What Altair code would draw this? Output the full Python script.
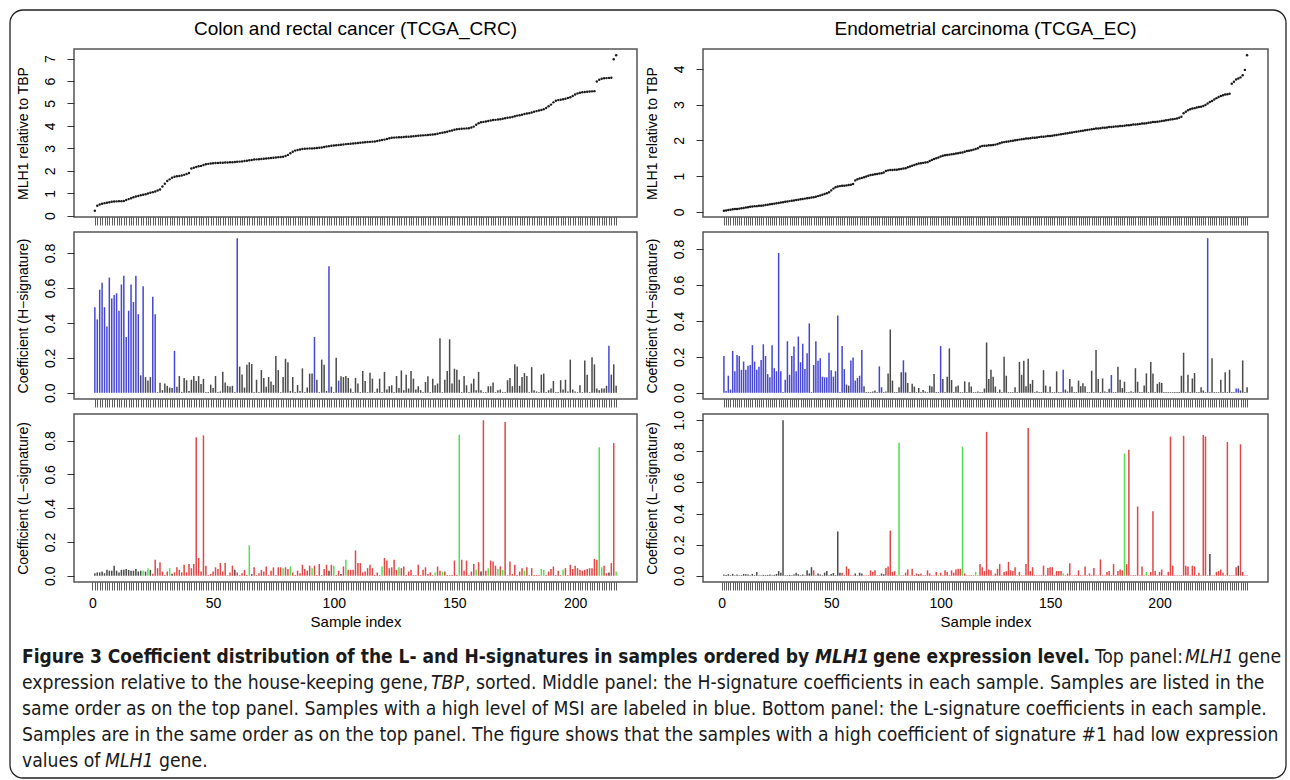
import altair as alt
import pandas as pd

# ---------------------------------------------------------------- data
crc_title = "Colon and rectal cancer (TCGA_CRC)"
ec_title = "Endometrial carcinoma (TCGA_EC)"

# top panels: MLH1 expression relative to TBP (sorted)
crc_expr = [
    0.22, 0.44, 0.5, 0.53, 0.56, 0.58, 0.6, 0.62, 0.63, 0.64,
    0.65, 0.65, 0.66, 0.7, 0.74, 0.78, 0.82, 0.86, 0.88, 0.91,
    0.93, 0.96, 0.99, 1.02, 1.05, 1.08, 1.12, 1.17, 1.3, 1.42,
    1.55, 1.62, 1.69, 1.74, 1.76, 1.77, 1.79, 1.82, 1.86, 1.9,
    2.1, 2.14, 2.17, 2.2, 2.22, 2.26, 2.29, 2.31, 2.33, 2.34,
    2.35, 2.35, 2.36, 2.36, 2.37, 2.37, 2.38, 2.38, 2.39, 2.4,
    2.41, 2.42, 2.44, 2.45, 2.47, 2.48, 2.5, 2.51, 2.52, 2.53,
    2.54, 2.55, 2.56, 2.57, 2.58, 2.59, 2.61, 2.62, 2.63, 2.66,
    2.71, 2.78, 2.85, 2.9, 2.93, 2.95, 2.97, 2.98, 2.99, 3.0,
    3.0, 3.01, 3.02, 3.03, 3.04, 3.06, 3.08, 3.1, 3.12, 3.13,
    3.14, 3.15, 3.16, 3.17, 3.19, 3.2, 3.21, 3.22, 3.23, 3.24,
    3.25, 3.26, 3.27, 3.28, 3.29, 3.3, 3.31, 3.33, 3.35, 3.37,
    3.39, 3.42, 3.45, 3.47, 3.48, 3.49, 3.5, 3.5, 3.51, 3.52,
    3.52, 3.53, 3.54, 3.55, 3.56, 3.57, 3.58, 3.59, 3.6, 3.61,
    3.62, 3.63, 3.65, 3.68, 3.7, 3.72, 3.74, 3.77, 3.8, 3.83,
    3.85, 3.86, 3.87, 3.88, 3.89, 3.9, 3.93, 3.97, 4.05, 4.12,
    4.16, 4.18, 4.2, 4.22, 4.24, 4.26, 4.27, 4.29, 4.3, 4.32,
    4.34, 4.36, 4.38, 4.4, 4.43, 4.46, 4.48, 4.5, 4.53, 4.55,
    4.57, 4.6, 4.63, 4.66, 4.69, 4.71, 4.74, 4.8, 4.88, 4.95,
    5.05, 5.12, 5.15, 5.17, 5.19, 5.21, 5.24, 5.28, 5.33, 5.4,
    5.45, 5.48, 5.5, 5.51, 5.52, 5.53, 5.54, 5.55, 5.98, 6.06,
    6.1, 6.12, 6.13, 6.14, 6.15, 6.97, 7.15,
]
ec_expr = [
    0.03, 0.04, 0.05, 0.06, 0.07, 0.08, 0.08, 0.09, 0.1, 0.11,
    0.12, 0.13, 0.14, 0.15, 0.16, 0.16, 0.17, 0.17, 0.18, 0.19,
    0.2, 0.21, 0.22, 0.23, 0.24, 0.25, 0.26, 0.27, 0.28, 0.29,
    0.3, 0.31, 0.32, 0.33, 0.34, 0.35, 0.36, 0.37, 0.38, 0.39,
    0.4, 0.41, 0.42, 0.44, 0.46, 0.48, 0.5, 0.52, 0.55, 0.6,
    0.65, 0.69, 0.71, 0.72, 0.73, 0.73, 0.74, 0.75, 0.76, 0.78,
    0.88, 0.91, 0.93, 0.95, 0.97, 0.99, 1.01, 1.03, 1.04, 1.05,
    1.06, 1.07, 1.08, 1.1, 1.14, 1.16, 1.17, 1.17, 1.18, 1.18,
    1.19, 1.2, 1.21, 1.22, 1.25, 1.27, 1.29, 1.31, 1.33, 1.35,
    1.36, 1.37, 1.38, 1.39, 1.42, 1.45, 1.48, 1.5, 1.52, 1.55,
    1.57, 1.58, 1.59, 1.6, 1.61, 1.62, 1.63, 1.64, 1.65, 1.66,
    1.68, 1.7, 1.71, 1.72, 1.74, 1.76, 1.78, 1.82, 1.84, 1.85,
    1.85, 1.86, 1.86, 1.87, 1.88, 1.9, 1.92, 1.94, 1.95, 1.96,
    1.97, 1.98, 1.99, 2.0, 2.01, 2.02, 2.03, 2.04, 2.05, 2.05,
    2.06, 2.07, 2.07, 2.08, 2.09, 2.1, 2.1, 2.11, 2.12, 2.12,
    2.13, 2.14, 2.15, 2.16, 2.17, 2.18, 2.19, 2.2, 2.21, 2.22,
    2.23, 2.24, 2.25, 2.26, 2.27, 2.28, 2.29, 2.3, 2.31, 2.32,
    2.33, 2.33, 2.34, 2.35, 2.35, 2.36, 2.37, 2.37, 2.38, 2.39,
    2.39, 2.4, 2.4, 2.41, 2.42, 2.42, 2.43, 2.44, 2.44, 2.45,
    2.46, 2.47, 2.47, 2.48, 2.49, 2.5, 2.51, 2.51, 2.52, 2.53,
    2.54, 2.55, 2.56, 2.57, 2.58, 2.59, 2.6, 2.61, 2.63, 2.66,
    2.76, 2.8, 2.84, 2.87, 2.89, 2.9, 2.92, 2.93, 2.94, 2.96,
    2.99, 3.03, 3.07, 3.1, 3.14, 3.18, 3.21, 3.24, 3.26, 3.28,
    3.29, 3.3, 3.58, 3.64, 3.7, 3.73, 3.76, 3.82, 3.97, 4.38,
]

# middle panels: H-signature coefficients
crc_h = [
    0.49, 0.42, 0.59, 0.63, 0.49, 0.38, 0.66, 0.54, 0.56, 0.57,
    0.47, 0.62, 0.67, 0.32, 0.47, 0.62, 0.52, 0.67, 0.45, 0.10,
    0.61, 0.09, 0.07, 0.09, 0.55, 0.45,
    0.004, 0.057, 0.015, 0.053, 0.04, 0.03, 0.027, 0.24, 0.035, 0.096,
    0.005, 0.085, 0.072, 0.01, 0.075, 0.096, 0.068, 0.096, 0.05, 0.08,
    0.004, 0.005, 0.047, 0.028, 0.096, 0.004, 0.008, 0.12, 0.059, 0.04,
    0.036, 0.04, 0.004,
    0.885,
    0.15, 0.105, 0.03, 0.16, 0.175, 0.165, 0.004, 0.075, 0.004, 0.13,
    0.085, 0.035, 0.09, 0.065, 0.045, 0.21, 0.13, 0.004, 0.09, 0.195,
    0.175, 0.01, 0.09, 0.004, 0.045, 0.01, 0.14, 0.004, 0.03, 0.11, 0.11,
    0.32, 0.075, 0.004, 0.19, 0.16, 0.01, 0.725, 0.035, 0.004, 0.2, 0.07, 0.095,
    0.09, 0.096, 0.085, 0.025, 0.004, 0.085, 0.053, 0.004, 0.125, 0.068,
    0.004, 0.115, 0.081, 0.004, 0.025, 0.081, 0.004, 0.12, 0.019, 0.038,
    0.043, 0.004, 0.096, 0.028, 0.128, 0.015, 0.104, 0.025, 0.125, 0.081,
    0.019, 0.038, 0.015, 0.004, 0.062, 0.095, 0.004, 0.081, 0.043, 0.053,
    0.312, 0.004, 0.075, 0.125, 0.306, 0.053, 0.138, 0.132, 0.075, 0.004,
    0.096, 0.043, 0.004, 0.053, 0.081, 0.015, 0.12, 0.015, 0.004, 0.004,
    0.038, 0.038, 0.059, 0.004, 0.015, 0.019, 0.004, 0.004, 0.072, 0.085,
    0.038, 0.163, 0.151, 0.04, 0.091, 0.113, 0.096, 0.004, 0.147, 0.015,
    0.008, 0.004, 0.104, 0.11, 0.004, 0.015, 0.025, 0.068, 0.004, 0.004,
    0.072, 0.019, 0.075, 0.008, 0.19, 0.019, 0.008, 0.004, 0.043, 0.004,
    0.185, 0.104, 0.004, 0.204, 0.163, 0.025, 0.015, 0.025, 0.025, 0.04,
    0.27, 0.104, 0.163, 0.04,
]
crc_h_blue = [*range(1, 20), 21, 25, 26, 34, 60, 92, 98, 102, 214]

ec_h = [
    0.205, 0.01, 0.095, 0.018, 0.233, 0.12, 0.21, 0.205, 0.128, 0.174,
    0.128, 0.15, 0.155, 0.265, 0.174, 0.128, 0.145, 0.183, 0.27, 0.205,
    0.104, 0.086, 0.265, 0.137, 0.12, 0.778, 0.12, 0.004, 0.073, 0.287,
    0.1, 0.205, 0.258, 0.12, 0.313, 0.17, 0.273, 0.132, 0.22, 0.386,
    0.004, 0.155, 0.287, 0.178, 0.192, 0.09, 0.086, 0.086, 0.223, 0.126,
    0.09, 0.12, 0.43, 0.004, 0.26, 0.132, 0.046, 0.04, 0.18, 0.196,
    0.068, 0.082, 0.095, 0.238, 0.037, 0.004, 0.004, 0.004, 0.007, 0.013,
    0.004, 0.147, 0.031, 0.004, 0.007, 0.108, 0.352, 0.068, 0.004, 0.004,
    0.031, 0.114, 0.181, 0.114, 0.055, 0.004, 0.05, 0.035, 0.004, 0.027,
    0.004, 0.016, 0.007, 0.004, 0.04, 0.035, 0.104, 0.004, 0.004, 0.26,
    0.077, 0.004, 0.09, 0.247, 0.071, 0.004, 0.035, 0.04, 0.004, 0.004,
    0.064, 0.004, 0.059, 0.035, 0.004, 0.004, 0.007, 0.004, 0.004, 0.024,
    0.28, 0.077, 0.128, 0.09, 0.035, 0.004, 0.018, 0.004, 0.2, 0.095,
    0.004, 0.004, 0.004, 0.031, 0.004, 0.172, 0.1, 0.178, 0.037, 0.19,
    0.05, 0.071, 0.004, 0.009, 0.004, 0.004, 0.126, 0.04, 0.004, 0.035,
    0.004, 0.004, 0.119, 0.004, 0.004, 0.128, 0.018, 0.007, 0.077, 0.035,
    0.004, 0.004, 0.068, 0.037, 0.053, 0.037, 0.004, 0.004, 0.123, 0.004,
    0.238, 0.077, 0.004, 0.08, 0.007, 0.004, 0.022, 0.099, 0.004, 0.004,
    0.145, 0.073, 0.026, 0.062, 0.004, 0.004, 0.009, 0.004, 0.137, 0.062,
    0.004, 0.004, 0.04, 0.108, 0.004, 0.172, 0.108, 0.004, 0.05, 0.059,
    0.055, 0.004, 0.004, 0.004, 0.004, 0.004, 0.004, 0.004, 0.004, 0.095,
    0.223, 0.004, 0.1, 0.004, 0.08, 0.11, 0.004, 0.004, 0.031, 0.013,
    0.004, 0.86, 0.004, 0.192, 0.004, 0.004, 0.004, 0.073, 0.004, 0.114,
    0.004, 0.128, 0.004, 0.004, 0.024, 0.024, 0.013, 0.18, 0.004, 0.031,
]
ec_h_blue = [*range(1, 28), *range(29, 41), *range(42, 54), 55, 56,
             *range(59, 65), 72, 73, 83, 100, 156, 178, 222, 235, 236]

# bottom panels: L-signature coefficients
crc_l = [
    0.015, 0.02, 0.02, 0.025, 0.015, 0.035, 0.03, 0.03, 0.06, 0.03,
    0.02, 0.035, 0.035, 0.04, 0.035, 0.03, 0.03, 0.04, 0.025, 0.03,
    0.03, 0.025, 0.045, 0.035, 0.012, 0.095, 0.045, 0.08, 0.025, 0.004,
    0.025, 0.045, 0.012, 0.02, 0.05, 0.035, 0.02, 0.065, 0.02, 0.07,
    0.045, 0.07, 0.82, 0.105, 0.025, 0.83, 0.06, 0.004, 0.01, 0.025,
    0.05, 0.04, 0.075, 0.025, 0.075, 0.004, 0.02, 0.06, 0.035, 0.02,
    0.004, 0.015, 0.035, 0.004, 0.18, 0.01, 0.05, 0.004, 0.015, 0.035,
    0.025, 0.055, 0.004, 0.03, 0.05, 0.004, 0.05, 0.05, 0.045, 0.05,
    0.04, 0.055, 0.02, 0.004, 0.03, 0.015, 0.065, 0.04, 0.03, 0.06,
    0.045, 0.06, 0.004, 0.07, 0.004, 0.04, 0.065, 0.03, 0.065, 0.06,
    0.004, 0.03, 0.01, 0.055, 0.095, 0.035, 0.035, 0.035, 0.15, 0.075,
    0.075, 0.02, 0.025, 0.045, 0.065, 0.045, 0.004, 0.02, 0.004, 0.055,
    0.105, 0.09, 0.045, 0.05, 0.095, 0.035, 0.05, 0.045, 0.055, 0.004,
    0.025, 0.035, 0.004, 0.004, 0.065, 0.004, 0.035, 0.05, 0.01, 0.02,
    0.004, 0.02, 0.055, 0.03, 0.025, 0.025, 0.004, 0.004, 0.004, 0.09,
    0.004, 0.835, 0.095, 0.03, 0.09, 0.004, 0.025, 0.07, 0.035, 0.08,
    0.025, 0.92, 0.03, 0.045, 0.09, 0.085, 0.06, 0.04, 0.055, 0.035,
    0.91, 0.004, 0.085, 0.01, 0.065, 0.004, 0.025, 0.045, 0.03, 0.05,
    0.004, 0.045, 0.004, 0.004, 0.004, 0.04, 0.035, 0.004, 0.025, 0.04,
    0.055, 0.004, 0.03, 0.004, 0.035, 0.045, 0.004, 0.065, 0.04, 0.06,
    0.045, 0.035, 0.03, 0.035, 0.04, 0.045, 0.045, 0.1, 0.095, 0.76,
    0.05, 0.06, 0.015, 0.02, 0.075, 0.785, 0.025,
]
crc_l_green = [21, 23, 32, 65, 79, 82, 91, 100, 105, 120, 127, 142, 145, 152,
               159, 164, 168, 170, 179, 186, 187, 195, 210, 211, 217]
crc_l_black = [*range(1, 21), 22, 24, 33, 59, 66, 98, 103, 161, 214]

ec_l = [
    0.008, 0.005, 0.01, 0.004, 0.012, 0.004, 0.008, 0.004, 0.004, 0.012,
    0.01, 0.008, 0.004, 0.012, 0.004, 0.025, 0.004, 0.004, 0.006, 0.004,
    0.005, 0.008, 0.004, 0.006, 0.012, 0.03, 0.02, 1.0,
    0.004, 0.004, 0.006, 0.004, 0.008, 0.02, 0.01, 0.004, 0.008, 0.004,
    0.035, 0.015, 0.055, 0.035, 0.004, 0.015, 0.008, 0.004, 0.02, 0.03,
    0.004, 0.012, 0.018, 0.004, 0.285,
    0.02, 0.02, 0.004, 0.06, 0.045, 0.004, 0.004, 0.015, 0.004, 0.02,
    0.015, 0.004, 0.004, 0.004, 0.035, 0.025, 0.035, 0.004, 0.004, 0.015,
    0.01, 0.05, 0.06, 0.29, 0.025, 0.03, 0.004, 0.855,
    0.004, 0.004, 0.02, 0.04, 0.004, 0.045, 0.004, 0.015, 0.01, 0.015,
    0.004, 0.004, 0.035, 0.015, 0.004, 0.004, 0.025, 0.004, 0.02, 0.004,
    0.035, 0.025, 0.004, 0.035, 0.02, 0.04, 0.045, 0.045, 0.83,
    0.015, 0.004, 0.004, 0.004, 0.004, 0.025, 0.004, 0.075, 0.055, 0.03,
    0.925,
    0.04, 0.035, 0.004, 0.015, 0.045, 0.075, 0.004, 0.025, 0.03, 0.09,
    0.035, 0.03, 0.055, 0.004, 0.025, 0.004, 0.004, 0.075, 0.95,
    0.03, 0.055, 0.004, 0.004, 0.004, 0.004, 0.065, 0.004, 0.05, 0.055,
    0.055, 0.004, 0.03, 0.03, 0.03, 0.015, 0.004, 0.015, 0.08, 0.004,
    0.004, 0.004, 0.035, 0.004, 0.004, 0.06, 0.004, 0.015, 0.004, 0.05,
    0.004, 0.004, 0.105, 0.004, 0.004, 0.025, 0.03, 0.004, 0.075, 0.004,
    0.03, 0.04, 0.035,
    0.785, 0.075, 0.81, 0.004, 0.004, 0.004, 0.445,
    0.004, 0.06, 0.004, 0.025, 0.004, 0.025, 0.415,
    0.03, 0.004, 0.025, 0.04, 0.004, 0.004, 0.025, 0.895,
    0.065, 0.004, 0.004, 0.004, 0.004, 0.9,
    0.065, 0.06, 0.004, 0.065, 0.06, 0.004, 0.02, 0.004, 0.905, 0.895,
    0.004, 0.14, 0.004, 0.004, 0.025, 0.03, 0.04, 0.02, 0.004, 0.86,
    0.004, 0.004, 0.004, 0.055, 0.065, 0.845, 0.025, 0.004, 0.004,
]
ec_l_green = [81, 99, 110, 116, 156, 184, 194]
ec_l_black = [*range(1, 42), *range(43, 55), 61, 63, 64, 73, 74, 90, 223, 236]

y_titles = ["MLH1 relative to TBP", "Coefficient (H\u2212signature)", "Coefficient (L\u2212signature)"]
x_title = "Sample index"

caption_lines = [
    [("Figure 3 Coefficient distribution of the L- and H-signatures in samples ordered by", "b"),
     ("MLH1", "bi"), ("gene expression level.", "b"), ("Top panel:", "r"), ("MLH1", "i"), ("gene", "r")],
    [("expression relative to the house-keeping gene,", "r"), ("TBP", "i"),
     (", sorted. Middle panel: the H-signature coefficients in each sample. Samples are listed in the", "r")],
    [("same order as on the top panel. Samples with a high level of MSI are labeled in blue. Bottom panel: the L-signature coefficients in each sample.", "r")],
    [("Samples are in the same order as on the top panel. The figure shows that the samples with a high coefficient of signature #1 had low expression", "r")],
    [("values of", "r"), ("MLH1", "i"), ("gene.", "r")],
]

# ---------------------------------------------------------------- layout / style
FONT = "Liberation Sans, Arial, Helvetica, sans-serif"
CAP_FONT = "Liberation Sans Narrow, Arial Narrow, DejaVu Sans Condensed, sans-serif"
W_L, W_R = 563, 565
H_TOP, H_MID, H_BOT = 168, 167, 168
ROW_GAP, COL_GAP = 15, 66
CODES = ["B", "K", "R", "G"]
PALETTE = ["#4646d4", "#4a4a4a", "#e24646", "#4ee24e"]

# caption origin sits ROW_GAP below the bottom panels (page x 72, page y 595)
cap_x = [[-52, 741, 799, 1021, 1111, 1164], [-52, 357, 391], [-52], [-52], [-52, 31, 85]]
cap_y = [66, 92, 118, 144, 170]
cap_size = {"r": 19.2, "i": 19.2, "b": 19.0, "bi": 19.0}
frame_box = (-64, 1212, -587, 181)


def x_scale(n):
    pad = 0.04 * (n - 1)
    return alt.Scale(domain=[1 - pad, n + pad], nice=False, zero=False)


def y_scale(lo, hi):
    pad = 0.04 * (hi - lo)
    return alt.Scale(domain=[lo - pad, hi + pad], nice=False, zero=False)


def y_axis(title, values, fmt):
    return alt.Axis(title=title, values=values, format=fmt, labelAngle=270,
                    labelAlign="center", labelBaseline="bottom", labelPadding=10,
                    labelFont=FONT, labelFontSize=14, labelColor="black",
                    tickSize=7, tickColor="#333333", tickWidth=1, domain=False, grid=False,
                    titleFont=FONT, titleFontSize=14, titleFontWeight="normal",
                    titleColor="black", titlePadding=13)


def rug_axis(n):
    return alt.Axis(values=list(range(1, n + 1)), labels=False, title=None, domain=False,
                    grid=False, tickSize=8, tickColor="#333333", tickWidth=0.8)


def labelled_axis(n, extra):
    return alt.Axis(values=list(range(0, n + 1)) + extra,
                    labelExpr="datum.value % 50 == 0 ? datum.label : ''",
                    labelOverlap=False, labelFlush=False, labelFont=FONT, labelFontSize=14,
                    labelColor="black", labelPadding=6, domain=False, grid=False,
                    tickSize=8, tickColor="#333333", tickWidth=0.8,
                    title=x_title, titleFont=FONT, titleFontSize=15, titleFontWeight="normal",
                    titleColor="black", titlePadding=4)


def codes_for(n, first_list, first_code, second_list=None, second_code=None, rest="K"):
    out = []
    for i in range(1, n + 1):
        if i in first_list:
            out.append(first_code)
        elif second_list is not None and i in second_list:
            out.append(second_code)
        else:
            out.append(rest)
    return out


def top_panel(vals, title, width, yvals):
    n = len(vals)
    df = pd.DataFrame({"idx": range(1, n + 1), "v": vals})
    return alt.Chart(df).mark_circle(size=6, color="#1a1a1a", opacity=1).encode(
        x=alt.X("idx:Q", scale=x_scale(n), axis=rug_axis(n)),
        y=alt.Y("v:Q", scale=y_scale(min(vals), max(vals)), axis=y_axis(y_titles[0], yvals, "d")),
    ).properties(width=width, height=H_TOP,
                 title=alt.TitleParams(title, font=FONT, fontSize=19, fontWeight="normal",
                                       anchor="middle", frame="group", offset=10, color="black"))


def bar_panel(vals, codes, width, height, ytitle, yvals, xaxis):
    n = len(vals)
    df = pd.DataFrame({"idx": range(1, n + 1), "v": vals, "c": codes})
    return alt.Chart(df).mark_rule(strokeWidth=1.5).encode(
        x=alt.X("idx:Q", scale=x_scale(n), axis=xaxis),
        y=alt.Y("v:Q", scale=y_scale(0, max(vals)), axis=y_axis(ytitle, yvals, ".1f")),
        y2=alt.datum(0),
        color=alt.Color("c:N", scale=alt.Scale(domain=CODES, range=PALETTE), legend=None),
    ).properties(width=width, height=height)


coef_ticks = [0, 0.2, 0.4, 0.6, 0.8]

top_l = top_panel(crc_expr, crc_title, W_L, list(range(0, 8)))
top_r = top_panel(ec_expr, ec_title, W_R, list(range(0, 5)))
mid_l = bar_panel(crc_h, codes_for(len(crc_h), crc_h_blue, "B"), W_L, H_MID, y_titles[1],
                  coef_ticks, rug_axis(len(crc_h)))
mid_r = bar_panel(ec_h, codes_for(len(ec_h), ec_h_blue, "B"), W_R, H_MID, y_titles[1],
                  coef_ticks, rug_axis(len(ec_h)))
bot_l = bar_panel(crc_l, codes_for(len(crc_l), crc_l_green, "G", crc_l_black, "K", rest="R"),
                  W_L, H_BOT, y_titles[2], coef_ticks, labelled_axis(len(crc_l), []))
bot_r = bar_panel(ec_l, codes_for(len(ec_l), ec_l_green, "G", ec_l_black, "K", rest="R"),
                  W_R, H_BOT, y_titles[2], coef_ticks + [1.0], labelled_axis(len(ec_l), [250]))

# caption (and the rounded frame around the whole figure)
rows = []
for li, line in enumerate(caption_lines):
    for si, (txt, sty) in enumerate(line):
        rows.append({"t": txt, "s": sty, "px": cap_x[li][si], "py": cap_y[li]})
cap_df = pd.DataFrame(rows)
cap_layers = []
for sty, weight, fstyle in [("r", "normal", "normal"), ("b", "bold", "normal"),
                            ("i", "normal", "italic"), ("bi", "bold", "italic")]:
    cap_layers.append(
        alt.Chart(cap_df).transform_filter(alt.datum.s == sty).mark_text(
            align="left", baseline="alphabetic", font=CAP_FONT, fontSize=cap_size[sty],
            fontWeight=weight, fontStyle=fstyle, color="#1a1a1a",
        ).encode(x=alt.X("px:Q", scale=None, axis=None),
                 y=alt.Y("py:Q", scale=None, axis=None), text="t:N")
    )
frame = alt.Chart(pd.DataFrame({"k": [0]})).mark_rect(
    fillOpacity=0, stroke="#222222", strokeWidth=1.3, cornerRadius=13
).encode(x=alt.value(frame_box[0]), x2=alt.value(frame_box[1]),
         y=alt.value(frame_box[2]), y2=alt.value(frame_box[3]))
caption = alt.layer(frame, *cap_layers).properties(
    width=500, height=140, view=alt.ViewBackground(stroke="transparent"))

chart = alt.concat(
    top_l, top_r, mid_l, mid_r, bot_l, bot_r, caption,
    columns=2, spacing={"row": ROW_GAP, "column": COL_GAP}, bounds="flush", align="each",
).properties(
    padding={"left": 8, "top": 8, "right": 2, "bottom": 2}
).configure_view(stroke="#555555", strokeWidth=1.5)

chart.save("out.html", embed_options={"renderer": "svg", "actions": False})
